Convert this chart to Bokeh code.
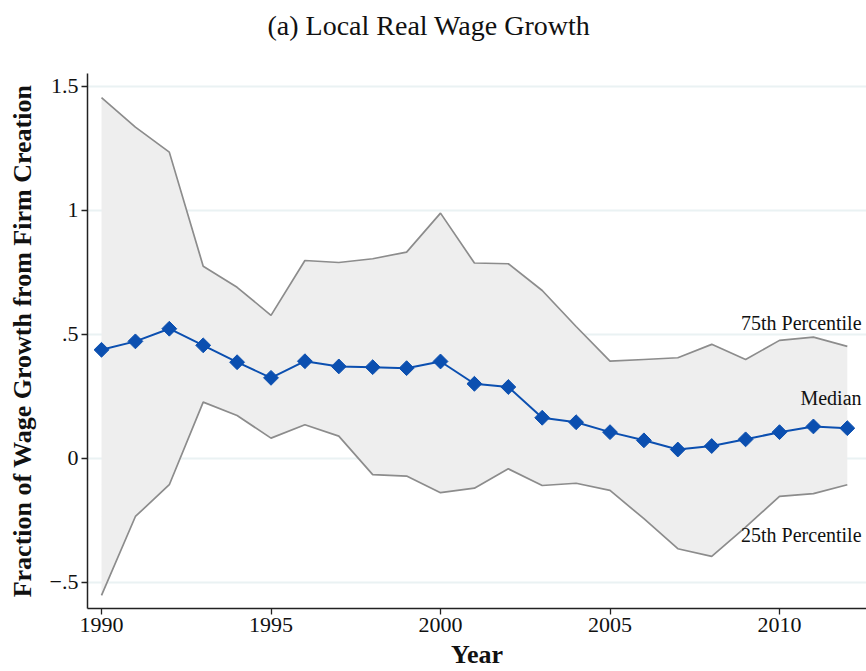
from bokeh.plotting import figure
from bokeh.models import Range1d, FixedTicker, Label, Title
from bokeh.embed import file_html
from bokeh.resources import INLINE
import math

years = list(range(1990, 2013))
p75 = [1.455, 1.336, 1.235, 0.775, 0.690, 0.577, 0.798, 0.790, 0.805, 0.832, 0.989, 0.788,
       0.785, 0.677, 0.532, 0.392, 0.399, 0.406, 0.460, 0.399, 0.476, 0.489, 0.452]
median = [0.438, 0.472, 0.523, 0.456, 0.388, 0.325, 0.392, 0.371, 0.368, 0.364, 0.391, 0.301,
          0.288, 0.164, 0.146, 0.106, 0.073, 0.036, 0.050, 0.077, 0.106, 0.129, 0.122]
p25 = [-0.552, -0.234, -0.106, 0.227, 0.173, 0.082, 0.136, 0.090, -0.065, -0.071, -0.138, -0.120,
       -0.042, -0.109, -0.100, -0.129, -0.243, -0.364, -0.395, -0.277, -0.153, -0.142, -0.106]
x_ticks = [1990, 1995, 2000, 2005, 2010]
y_ticks = [-0.5, 0, 0.5, 1, 1.5]
y_tick_labels = {-0.5: "\u2212.5", 0: "0", 0.5: ".5", 1: "1", 1.5: "1.5"}
series_labels = ["75th Percentile", "Median", "25th Percentile"]
title_text = "(a) Local Real Wage Growth"

SERIF = "Liberation Serif"

p = figure(width=866, height=671, output_backend="svg", toolbar_location=None,
           x_range=Range1d(1989.587, 2012.566), y_range=Range1d(-0.605, 1.552),
           min_border_left=87, min_border_right=0, min_border_top=73, min_border_bottom=63)
p.outline_line_color = None
p.background_fill_color = "white"

# second (blank) line lifts the title towards the top of the page
p.add_layout(Title(text=title_text + "\n ", align="left", offset=180, standoff=4,
                   text_font=SERIF, text_font_size="28px", text_font_style="normal",
                   text_color="#111111"), "above")

p.varea(x=years, y1=p25, y2=p75, fill_color="#EEEEEE")
p.line(years, p75, line_color="#8c8c8c", line_width=1.7)
p.line(years, p25, line_color="#8c8c8c", line_width=1.7)
p.line(years, median, line_color="#0b4fb0", line_width=2)
p.scatter(years, median, marker="square", angle=math.pi / 4, size=10.5,
          fill_color="#0b4fb0", line_color="#0b4fb0")

for txt, yy in zip(series_labels, [0.548, 0.242, -0.31]):
    p.add_layout(Label(x=2012.42, y=yy, text=txt, text_align="right", text_baseline="middle",
                       text_font=SERIF, text_font_size="20px", text_color="#111111"))

p.xgrid.grid_line_color = None
p.ygrid.grid_line_color = "#EAF2F3"
p.ygrid.grid_line_width = 2
p.ygrid.ticker = FixedTicker(ticks=y_ticks)

p.xaxis.ticker = FixedTicker(ticks=x_ticks)
p.yaxis.ticker = FixedTicker(ticks=y_ticks)
p.yaxis.major_label_overrides = y_tick_labels
for ax in (p.xaxis, p.yaxis):
    ax.axis_line_color = "#222222"
    ax.axis_line_width = 1.5
    ax.major_tick_line_color = "#222222"
    ax.major_tick_line_width = 1.3
    ax.major_tick_out = 6
    ax.major_tick_in = 0
    ax.minor_tick_line_color = None
    ax.major_label_text_font = SERIF
    ax.major_label_text_font_size = "22px"
    ax.major_label_text_color = "#111111"
    ax.axis_label_text_font = SERIF
    ax.axis_label_text_font_style = "bold"
    ax.axis_label_text_font_size = "26px"
    ax.axis_label_text_color = "#111111"
p.xaxis.axis_label = "Year"
p.yaxis.axis_label = "Fraction of Wage Growth from Firm Creation"
p.yaxis.major_label_orientation = "horizontal"
p.xaxis.major_label_standoff = 3
p.yaxis.major_label_standoff = 3
p.xaxis.axis_label_standoff = 5
p.yaxis.axis_label_standoff = 10

open("out.html", "w").write(file_html(p, INLINE))
